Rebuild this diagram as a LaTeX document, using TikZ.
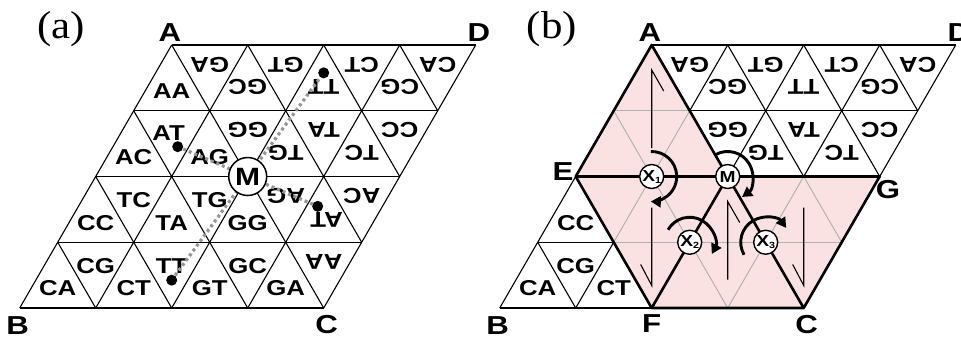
\documentclass[tikz,border=0pt]{standalone}
\usepackage{fontspec}
\usetikzlibrary{arrows.meta}
\newfontfamily\labfont{Liberation Sans}[FakeStretch=1.2]
\newfontfamily\parfont{Liberation Serif}[FakeStretch=1.1]
\definecolor{pinkfill}{RGB}{251,226,226}
\definecolor{gridgray}{RGB}{178,178,178}
\definecolor{dotgray}{RGB}{150,150,150}
\tikzset{
  lab/.style={font=\labfont\bfseries\fontsize{21.5}{23}\selectfont, inner sep=0pt},
  vlab/.style={font=\labfont\bfseries\fontsize{26}{28}\selectfont, inner sep=0pt},
  plab/.style={font=\parfont\fontsize{39}{41}\selectfont, inner sep=0pt},
  thingrid/.style={line width=1.1pt, black},
  graygrid/.style={line width=1pt, gridgray},
  boldline/.style={line width=2.6pt, black, line join=round, line cap=round},
  dotline/.style={line width=3.2pt, dotgray, dash pattern=on 3pt off 3pt},
  dotnode/.style={circle, fill=black, minimum size=11pt, inner sep=0pt},
  bigcirc/.style={circle, draw, fill=white, line width=1.5pt, minimum size=38pt, inner sep=0pt,
     font=\labfont\bfseries\fontsize{25}{27}\selectfont},
  smallcirc/.style={circle, draw, fill=white, line width=1.4pt, minimum size=24pt, inner sep=0pt,
     font=\labfont\bfseries\fontsize{16}{18}\selectfont},
  harp/.style={line width=1.1pt, black},
  turn/.style={line width=2.9pt, black, -{Triangle[length=10pt,width=11pt]}},
}
\newcommand\upl[4]{\node[lab] (#1) at ([yshift=-2.5pt]{#2+1/3},{#3+2/3}) {#4};}
\newcommand\upr[4]{\node[lab,rotate=180] (#1) at ([yshift=2pt]{#2+1/3},{#3+2/3}) {#4};}
\newcommand\dnl[4]{\node[lab] (#1) at ([yshift=-2pt]{#2+2/3},{#3+1/3}) {#4};}
\newcommand\dnr[4]{\node[lab,rotate=180] (#1) at ([yshift=2.5pt]{#2+2/3},{#3+1/3}) {#4};}
\newcommand\latgrid[1]{%
  \foreach \k in {0,...,4}{\draw[#1] (0,\k) -- (4,\k); \draw[#1] (\k,0) -- (\k,4);}
  \foreach \d in {0,...,3}{\draw[#1] (\d,0) -- ({4},{4-\d});}
  \foreach \d in {1,...,3}{\draw[#1] (0,\d) -- ({4-\d},{4});}
}
\newcommand\Xs[1]{X\raisebox{-2pt}{\fontsize{9}{9}\selectfont #1}}
\begin{document}
\begin{tikzpicture}[x={(76pt,0pt)}, y={(-38pt,-65.75pt)}]
\useasboundingbox (0pt,0pt) rectangle (961pt,-341pt);
\node[plab] (pa) at (61pt,-29pt) {(a)};
\node[plab] (pb) at (552pt,-29pt) {(b)};
% ---------------- panel (a)
\begin{scope}[shift={(171.7pt,-45pt)}]
  \coordinate (aA) at (0,0); \coordinate (aD) at (4,0);
  \coordinate (aB) at (0,4); \coordinate (aC) at (4,4);
  \latgrid{thingrid}
  \upl{aAA}{0}{0}{AA}
  \upl{aAC}{0}{1}{AC}
  \upl{aAG}{1}{1}{AG}
  \upl{aCC}{0}{2}{CC}
  \upl{aTA}{1}{2}{TA}
  \upl{aGG}{2}{2}{GG}
  \upl{aCA}{0}{3}{CA}
  \upl{aCT}{1}{3}{CT}
  \upl{aGT}{2}{3}{GT}
  \upl{aGA}{3}{3}{GA}
  \upr{aGCr}{1}{0}{GC}
  \upr{aTTr}{2}{0}{TT}
  \upr{aCGr}{3}{0}{CG}
  \upr{aTGr}{2}{1}{TG}
  \upr{aTCr}{3}{1}{TC}
  \node[lab,rotate=180] (aATr) at ([shift={(3pt,0pt)}]{3+1/3},{2+2/3}) {AT};
  \node[lab] (aAT) at ([shift={(-3pt,0pt)}]{2/3},{4/3}) {AT};
  \dnl{aTC}{0}{2}{TC}
  \dnl{aTG}{1}{2}{TG}
  \dnl{aCG}{0}{3}{CG}
  \dnl{aTT}{1}{3}{TT}
  \dnl{aGC}{2}{3}{GC}
  \dnr{aGAr}{0}{0}{GA}
  \dnr{aGTr}{1}{0}{GT}
  \dnr{aCTr}{2}{0}{CT}
  \dnr{aCAr}{3}{0}{CA}
  \dnr{aGGr}{1}{1}{GG}
  \dnr{aTAr}{2}{1}{TA}
  \dnr{aCCr}{3}{1}{CC}
  \dnr{aAGr}{2}{2}{AG}
  \dnr{aACr}{3}{2}{AC}
  \dnr{aAAr}{3}{3}{AA}
  \coordinate (aP1) at ([yshift=-16pt]{1+2/3},{3+1/3});
  \coordinate (aP2) at ([yshift=16pt]{2+1/3},{2/3});
  \coordinate (aP3) at ([shift={(6pt,-14pt)}]{2/3},{4/3});
  \coordinate (aP4) at ([shift={(-6pt,14pt)}]{3+1/3},{2+2/3});
  \draw[dotline] (aP1) -- (aP2);
  \draw[dotline] (aP3) -- (aP4);
  \node[dotnode] (aD1) at (aP1) {};
  \node[dotnode] (aD2) at (aP2) {};
  \node[dotnode] (aD3) at (aP3) {};
  \node[dotnode] (aD4) at (aP4) {};
  \node[bigcirc] (aM) at (2,2) {M};
  \node[vlab] (laA) at ([shift={(-1.7pt,12pt)}]aA) {A};
  \node[vlab] (laD) at ([shift={(3.3pt,12pt)}]aD) {D};
  \node[vlab] (laB) at ([shift={(-2pt,-18pt)}]aB) {B};
  \node[vlab] (laC) at ([shift={(3pt,-17pt)}]aC) {C};
\end{scope}
% ---------------- panel (b)
\begin{scope}[shift={(651.7pt,-45pt)}]
  \coordinate (bA) at (0,0); \coordinate (bD) at (4,0);
  \coordinate (bB) at (0,4); \coordinate (bC) at (4,4);
  \coordinate (bE) at (0,2); \coordinate (bF) at (2,4);
  \coordinate (bG) at (4,2); \coordinate (bMp) at (2,2);
  \coordinate (bP) at (1,2); \coordinate (bQ) at (3,2);
  \latgrid{thingrid}
  \fill[pinkfill] (bA) -- (bE) -- (bF) -- (bC) -- (bG) -- (bMp) -- cycle;
  \begin{scope}
    \clip (bA) -- (bE) -- (bF) -- (bC) -- (bG) -- (bMp) -- cycle;
    \latgrid{graygrid}
  \end{scope}
  % harpoon marks
  \draw[harp] ([shift={(12pt,-46pt)}]bA) -- ([yshift=-25pt]bA) -- ([yshift=-103pt]bA);
  \draw[harp] ([shift={(12pt,-46pt)}]bMp) -- ([yshift=-25pt]bMp) -- ([yshift=-103pt]bMp);
  \draw[harp] ([yshift=-31pt]bP) -- ([yshift=-109pt]bP) -- ([shift={(-11pt,-88pt)}]bP);
  \draw[harp] ([yshift=-31pt]bQ) -- ([yshift=-109pt]bQ) -- ([shift={(-11pt,-88pt)}]bQ);
  % bold lines
  \draw[boldline] (bE) -- (bA) -- (bMp) -- (bC) -- (bG) -- (bE) -- (bF) -- (bC);
  \draw[boldline] (bMp) -- (bF);
  % labels
  \upr{bGCr}{1}{0}{GC}
  \upr{bTTr}{2}{0}{TT}
  \upr{bCGr}{3}{0}{CG}
  \upr{bTGr}{2}{1}{TG}
  \upr{bTCr}{3}{1}{TC}
  \dnr{bGAr}{0}{0}{GA}
  \dnr{bGTr}{1}{0}{GT}
  \dnr{bCTr}{2}{0}{CT}
  \dnr{bCAr}{3}{0}{CA}
  \dnr{bGGr}{1}{1}{GG}
  \dnr{bTAr}{2}{1}{TA}
  \dnr{bCCr}{3}{1}{CC}
  \upl{bCC}{0}{2}{CC}
  \upl{bCA}{0}{3}{CA}
  \upl{bCT}{1}{3}{CT}
  \dnl{bCG}{0}{3}{CG}
  % circles
  \node[smallcirc] (bX1) at (1,2) {\Xs{1}};
  \node[smallcirc] (bM) at (2,2) {M};
  \node[smallcirc] (bX2) at (2,3) {\Xs{2}};
  \node[smallcirc] (bX3) at (3,3) {\Xs{3}};
  % turning arrows
  \draw[turn] ([shift={(92:25pt)}]bX1.center) arc[start angle=92, end angle=-92, radius=25pt];
  \draw[turn] ([shift={(120:25pt)}]bM.center) arc[start angle=120, end angle=-55, radius=25pt];
  \draw[turn] ([shift={(150:25pt)}]bX2.center) arc[start angle=150, end angle=-28, radius=25pt];
  \draw[turn] ([shift={(210:25pt)}]bX3.center) arc[start angle=210, end angle=35, radius=25pt];
  % vertex labels
  \node[vlab] (lbA) at ([shift={(-1.7pt,12pt)}]bA) {A};
  \node[vlab] (lbD) at ([shift={(3.3pt,12pt)}]bD) {D};
  \node[vlab] (lbB) at ([shift={(-2pt,-18pt)}]bB) {B};
  \node[vlab] (lbC) at ([shift={(3pt,-17pt)}]bC) {C};
  \node[vlab] (lbE) at ([shift={(-12.7pt,4.5pt)}]bE) {E};
  \node[vlab] (lbG) at ([shift={(8.3pt,-13.5pt)}]bG) {G};
  \node[vlab] (lbF) at ([shift={(0pt,-16pt)}]bF) {F};
\end{scope}
\end{tikzpicture}
\end{document}
